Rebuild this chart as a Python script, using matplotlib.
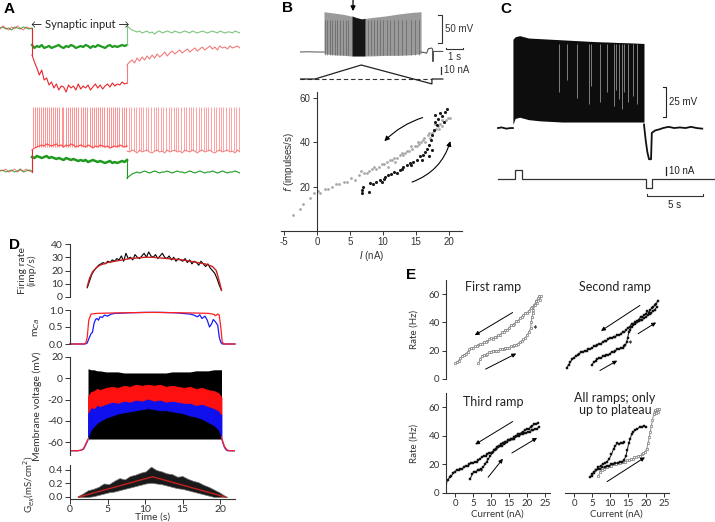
import numpy as np
import matplotlib
matplotlib.use("Agg")
import matplotlib.pyplot as plt

plt.rcParams['font.family'] = ['Lato', 'DejaVu Sans']
plt.rcParams['axes.linewidth'] = 0.8
plt.rcParams['axes.unicode_minus'] = False

W, H = 715, 522

# ======================= DATA =======================
# ---- Panel A (time in s, voltage in mV) ----
A_input_on, A_input_off = 3.2, 12.7
tA_pre = np.linspace(0, 3.2, 12)
tA_dur = np.linspace(3.2, 12.7, 40)
tA_post = np.linspace(12.7, 24, 46)
gA_top_pre = [-60, -59.5, -60.5, -60, -61, -59.5, -60, -60.5, -59.5, -60, -60.5, -60]
rA_top_pre = [-60.5, -59, -60, -61, -59.5, -60.5, -59, -60, -61, -59.5, -60, -60.5]
gA_top_dur = [-68.5, -70, -69, -69.5, -68.5, -70, -69.5, -69, -70, -69.5,
              -69, -68.5, -69.5, -70, -69, -69.5, -68.5, -69, -70, -69.5,
              -69, -69.5, -68.5, -69, -70, -69, -69.5, -68.5, -69, -69.5,
              -70, -69, -68.5, -69.5, -69, -69.5, -69, -68.5, -69, -68.5]
rA_top_dur = [-73.5, -77, -80, -83.5, -81, -86, -85, -88.5, -87, -90,
              -88, -91, -89, -89.5, -92, -88.5, -90, -89, -91, -88,
              -90.5, -89, -90, -88.5, -91, -89.5, -88, -90, -88.5, -90.5,
              -89, -88, -89.5, -87.5, -89, -88, -88.5, -87, -88, -87.5]
gA_top_post = [-59, -60, -61, -61.5, -62, -61.5, -62.5, -62, -61.5, -62.5,
               -62, -63, -62, -61.5, -62.5, -62, -61.5, -62, -62.5, -61.5,
               -62, -62.5, -62, -61.5, -62, -62.5, -61.5, -62, -62.5, -62,
               -61.5, -62, -62.5, -62, -61.5, -62, -62.5, -61.5, -62, -62.5,
               -62, -62, -62.5, -61.5, -62, -62.5]
rA_top_post = [-78.5, -77, -76, -77.5, -75, -76.5, -74.5, -76, -74, -75.5,
               -73.5, -75, -73, -74.5, -73.5, -72, -74, -72.5, -71.5, -73,
               -72, -71, -72.5, -71.5, -70.5, -72, -71, -70, -71.5, -70.5,
               -69.5, -71, -70, -69, -70.5, -69.5, -71, -69, -70, -69.5,
               -70.5, -69, -70, -69.5, -69, -70]
gA_bot_pre = [-60, -59.5, -60.5, -60, -59.5, -60.5, -60, -59, -60.5, -60, -59.5, -60]
rA_bot_pre = [-59.5, -60, -59, -60.5, -60, -59, -60.5, -59.5, -60, -59, -60, -60.5]
gA_bot_dur = [-53, -53.5, -52.5, -53, -53.5, -53, -52.5, -53.5, -53, -53.5,
              -54, -53.5, -54, -54.5, -53.5, -54, -54.5, -54, -54.5, -55,
              -54.5, -55, -54.5, -55.5, -55, -54.5, -55, -55.5, -55, -55.5,
              -56, -55.5, -55, -56, -55.5, -56, -55.5, -55, -55.5, -54.5]
rA_bot_dur = [-49.5, -48.5, -48, -47.5, -47, -47.5, -46.5, -47, -47.5, -47,
              -46.5, -47.5, -47, -48, -47, -47.5, -46.5, -47, -48, -47.5,
              -47, -47.5, -48, -47, -47.5, -48.5, -47.5, -48, -47, -47.5,
              -48, -47.5, -48.5, -48, -47.5, -48, -47, -47.5, -48, -47.5]
gA_bot_post = [-63.5, -62.5, -61.5, -61, -60.5, -61, -60.5, -60, -60.5, -61,
               -60.5, -60, -60.5, -61, -60.5, -60.5, -60, -60.5, -61, -60.5,
               -60, -60.5, -60.5, -61, -60.5, -60, -60.5, -61, -60.5, -60,
               -60.5, -61, -60.5, -60.5, -60, -60.5, -61, -60.5, -60, -60.5,
               -61, -60.5, -60.5, -60, -60.5, -61]
rA_bot_post = [-50, -50.5, -49.5, -50, -51, -49.5, -50.5, -50, -49.5, -50.5,
               -51, -50, -49.5, -50.5, -50, -51, -49.5, -50.5, -50, -49.5,
               -50.5, -50, -51, -49.5, -50, -50.5, -49.5, -50, -51, -50,
               -49.5, -50.5, -50, -49.5, -50.5, -51, -50, -49.5, -50.5, -50,
               -49.5, -50.5, -50, -51, -49.5, -50.5]
A_spike_peak = -28
A_spikes_dur = [3.25, 3.45, 3.68, 3.9, 4.07, 4.27, 4.5, 4.7, 4.93, 5.1, 5.33, 5.53, 5.67,
                5.93, 6.17, 6.33, 6.57, 6.8, 7.0, 7.17, 7.4, 7.6, 7.83, 8.1, 8.33, 8.53,
                8.73, 9.0, 9.2, 9.4, 9.6, 9.83, 10.0, 10.23, 10.43, 10.67, 10.87, 11.1,
                11.33, 11.53, 11.73, 11.93, 12.17, 12.4, 12.62]
A_spikes_post = [12.85, 13.1, 13.35, 13.58, 13.85, 14.1, 14.33, 14.6, 14.82, 15.08, 15.35,
                 15.57, 15.83, 16.1, 16.33, 16.58, 16.85, 17.08, 17.35, 17.6, 17.83, 18.1,
                 18.35, 18.58, 18.85, 19.1, 19.33, 19.6, 19.85, 20.08, 20.35, 20.6, 20.83,
                 21.1, 21.35, 21.58, 21.85, 22.1, 22.33, 22.6, 22.85, 23.08, 23.35, 23.6, 23.85]

# ---- Panel B (voltage trace, current ramp, f-I scatter) ----
B_pre_t = [0.0, 0.5, 1.0, 1.41]
B_pre_v = [-65, -64.5, -65, -65]
B_env_t = [1.41, 2.0, 2.6, 3.0, 3.3, 3.65, 4.2, 5.0, 5.8, 6.5, 7.12]
B_env_top = [7, 4.6, 2, -0.7, -3.4, -6.1, -3.4, -0.7, 2.9, 5.5, 7]
B_env_bot = [-68, -70, -71, -72, -72, -72, -72, -71, -71, -70, -68]
B_dark_t = [3.06, 3.3, 3.65, 3.82]
B_dark_top = [-0.5, -3.4, -6.1, -4.5]
B_dark_bot = [-72, -72, -72, -72]
B_tex_t = [1.45, 1.6, 1.75, 1.9, 2.05, 2.2, 2.35, 2.5, 2.7, 2.85, 4.0, 4.2, 4.35,
           4.55, 4.7, 4.9, 5.1, 5.3, 5.5, 5.75, 6.0, 6.25, 6.5, 6.75, 7.0]
B_post_t = [7.12, 7.3, 7.45, 7.55, 7.75, 7.8, 7.82, 7.84, 8.0, 8.4]
B_post_v = [-65, -66, -67, -59, -58, -60, -82, -64, -64, -64]
B_arrow_t = 3.12
B_I_t = [0.0, 0.88, 3.6, 7.76, 7.76, 8.4]
B_I = [0, 0, 20, -7, 0, 0]
B_down_I = [-3.6, -2.6, -2.1, -1.0, -0.4, 0.1, 0.5, 1.2, 1.6, 2.3, 2.8, 3.4, 4.1, 4.6, 5.2,
            5.8, 6.3, 6.7, 7.1, 7.5, 7.9, 8.3, 8.6, 9.0, 9.4, 9.8, 10.2, 10.6, 11.0, 11.3,
            11.7, 12.1, 12.5, 12.9, 13.3, 13.6, 14.0, 14.4, 14.8, 15.1, 15.5, 15.8, 16.1,
            16.4, 16.8, 17.1, 17.4, 17.7, 18.0, 18.3, 18.6, 18.9, 19.2, 19.5, 19.8, 20.1,
            19.0, 18.5, 17.9, 16.9, 16.2, 15.3, 14.2, 13.0, 11.8, 10.8]
B_down_f = [7, 10, 12, 15, 17, 18, 17, 19, 19, 20, 21, 21, 22, 22, 24,
            23, 25, 27, 26, 26, 27, 28, 29, 28, 29, 30, 30, 31, 32, 32,
            33, 33, 34, 35, 35, 36, 36, 37, 38, 38, 39, 40, 41,
            40, 43, 42, 44, 45, 46, 47, 48, 47, 49, 50, 51, 51,
            50, 46, 48, 44, 42, 40, 38, 34, 31, 29]
B_up_I = [6.8, 6.8, 7.0, 7.8, 8.0, 8.5, 9.0, 9.6, 9.8, 10.1, 10.3, 10.8, 11.6, 12.1, 12.6,
          13.1, 13.6, 14.1, 14.6, 15.1, 15.6, 16.1, 16.4, 16.6, 16.9, 17.2, 17.4, 17.7,
          17.9, 17.9, 18.4, 18.7, 19.2, 19.4, 19.7, 18.9, 18.2, 17.4, 16.9, 15.9, 14.3,
          12.9, 11.2]
B_up_f = [17, 18.5, 20, 17.5, 21.5, 21, 22, 23, 22, 23.5, 24.5, 25, 26.5, 26, 27.5,
          29, 29.5, 30.5, 31, 32, 33.5, 34, 35.5, 37, 38.5, 41, 43, 45.5,
          49, 52, 50.5, 53, 49, 53.5, 55, 51.5, 47.5, 36.5, 33.5, 32, 29.5,
          28, 25.5]

# ---- Panel C ----
C_pre_t = [0.27, 0.6, 1.0, 1.4, 1.6]
C_pre_v = [-60, -59.5, -60.5, -60, -60]
C_env_t = [1.6, 1.8, 2.2, 3, 4, 5, 6, 7, 8, 9, 10, 11, 12, 13, 13.3]
C_env_top = [14, 16, 17, 15, 14.5, 14, 13.5, 13, 12.5, 12, 11.7, 11.3, 11, 10.6, 10.5]
C_env_bot = [-57, -52, -51, -53, -54, -54.5, -55, -55, -55, -55, -55, -55, -55, -55, -55]
C_gap_t = [5.7, 6.4, 7.3, 8.4, 8.6, 9.4, 10.0, 10.6, 10.8, 11.1, 11.3, 11.5, 11.9, 12.35, 12.7]
C_gap_lo = [-30, -20, -35, -40, -25, -38, -30, -42, -28, -36, -44, -30, -38, -33, -40]
C_post_t = [13.3, 13.45, 13.6, 13.75, 13.93, 14.0, 14.3, 14.7, 15.0, 15.5, 16, 16.5, 17, 17.5, 18, 18.5]
C_post_v = [-57, -70, -80, -86, -86, -64, -62, -61, -60, -59, -60, -59.5, -60, -59, -60, -60.5]
C_I_t = [0.27, 1.79, 2.41, 13.48, 14.0, 19.64]
C_I = [0, 11, 0, -11, 0, 0]

# ---- Panel D ----
D_fr_t = np.linspace(2.3, 20.2, 60)
D_fr_black = [7, 12, 17, 20, 22, 24, 25, 26, 25, 27, 26, 28, 27, 29, 28, 31, 27, 33, 29, 30,
              28, 32, 30, 29, 31, 33, 30, 34, 31, 30, 32, 29, 31, 33, 30, 29, 31, 28, 30, 27,
              29, 28, 27, 29, 26, 28, 25, 27, 26, 24, 27, 25, 23, 25, 22, 20, 18, 14, 9, 5]
D_fr_red_t = [2.3, 2.6, 3.0, 3.5, 4, 5, 6, 7, 8, 9, 10, 11, 12, 13, 14, 15, 16, 17, 18, 19,
              19.5, 19.9, 20.2]
D_fr_red = [8, 14, 19, 22, 24, 26, 27, 28, 29, 29.5, 30, 30, 29.5, 29, 28.5, 28, 27, 26, 25,
            23, 20, 12, 5]
D_m_red_t = [0, 1.8, 2.1, 2.3, 2.5, 2.8, 3.5, 5, 8, 11, 14, 17, 18.5, 19.2, 19.4, 19.7, 19.9,
             20.1, 20.3, 20.6, 22]
D_m_red = [0, 0, 0.02, 0.2, 0.7, 0.88, 0.9, 0.91, 0.92, 0.93, 0.92, 0.91, 0.9, 0.87, 0.83,
           0.88, 0.85, 0.5, 0.05, 0, 0]
D_m_blue_t = [0, 2.0, 2.3, 2.5, 2.8, 3.0, 3.2, 3.4, 3.6, 3.8, 4.0, 4.3, 4.6, 5.0, 5.5, 6, 7, 8,
              10, 12, 14, 15, 16, 16.5, 17, 17.3, 17.6, 18, 18.3, 18.6, 18.9, 19.1, 19.4, 19.7,
              19.9, 20.1, 20.3, 22]
D_m_blue = [0, 0, 0.03, 0.15, 0.3, 0.35, 0.6, 0.72, 0.75, 0.7, 0.8, 0.78, 0.85, 0.82, 0.88,
            0.9, 0.91, 0.92, 0.93, 0.93, 0.92, 0.9, 0.88, 0.85, 0.8, 0.86, 0.75, 0.82, 0.7,
            0.5, 0.6, 0.72, 0.65, 0.55, 0.2, 0.05, 0, 0]
D_v_t = [2.4, 2.8, 3.2, 3.6, 4.0, 4.8, 5.6, 6.4, 7.2, 8.0, 8.8, 9.6, 10.4, 11.2, 12.0, 12.8,
         13.6, 14.4, 15.2, 16.0, 16.8, 17.6, 18.4, 19.2, 19.8, 20.2]
D_v_black_top = [9, 8, 8, 7, 7, 6, 6, 6, 5, 5, 5, 5, 5, 5, 5, 5, 6, 6, 6, 6, 7, 7, 7, 8, 8, 8]
D_v_black_bot = [-57, -57, -57, -57, -57, -57, -57, -57, -57, -57, -57, -57, -57, -57, -57,
                 -57, -57, -57, -57, -57, -57, -57, -57, -57, -57, -57]
D_v_red_top = [-17, -13, -12, -10, -11, -9, -8, -9, -7, -8, -6, -7, -6, -7, -6, -8, -7, -8,
               -9, -8, -10, -9, -11, -12, -14, -18]
D_v_red_bot = [-32, -27, -28, -25, -26, -24, -22, -23, -21, -22, -20, -21, -19, -21, -20, -22,
               -21, -22, -23, -23, -25, -24, -26, -28, -30, -34]
D_v_blue_bot = [-55, -48, -45, -42, -40, -37, -35, -33, -32, -31, -30, -29, -28, -29, -30, -30,
                -31, -32, -33, -35, -36, -38, -41, -44, -48, -55]
D_v_pre_t = [0, 0.5, 1.0, 1.5, 1.8, 2.0, 2.2, 2.4]
D_v_pre_red = [-68, -68, -68, -67.5, -66, -63, -60, -57]
D_v_pre_blue = [-68, -68, -68, -67.5, -66.5, -64, -61, -58]
D_v_post_t = [20.2, 20.4, 20.6, 20.8, 21.0, 21.3, 21.6, 22]
D_v_post_red = [-55, -60, -64, -66, -67.5, -68, -68, -68]
D_v_post_blue = [-56, -61, -65, -67, -68, -68, -68, -68]
D_g_t = [1.0, 1.7, 2.4, 3.1, 3.8, 4.5, 5.2, 5.9, 6.6, 7.3, 8.0, 8.7, 9.4, 10.1, 10.8, 11.5,
         12.2, 12.9, 13.6, 14.3, 15.0, 15.7, 16.4, 17.1, 17.8, 18.5, 19.2, 19.9, 20.6, 21.0]
D_g_upper = [0.01, 0.05, 0.10, 0.12, 0.15, 0.20, 0.19, 0.24, 0.28, 0.26, 0.31, 0.33, 0.36, 0.38,
             0.45, 0.40, 0.38, 0.35, 0.34, 0.30, 0.31, 0.27, 0.24, 0.22, 0.18, 0.15, 0.11,
             0.07, 0.02, 0.0]
D_g_lower = [0.0, 0.0, 0.0, 0.01, 0.03, 0.05, 0.07, 0.08, 0.10, 0.12, 0.14, 0.16, 0.18, 0.20,
             0.21, 0.20, 0.19, 0.17, 0.15, 0.13, 0.12, 0.10, 0.08, 0.06, 0.04, 0.02, 0.0, 0.0,
             0.0, 0.0]
D_g_red_t = [1.2, 11.0, 20.7]
D_g_red = [0.0, 0.3, 0.0]

# ---- Panel E ----
E1_dn_I = [23.8, 23.5, 23.2, 22.9, 22.5, 22, 21.5, 21, 20.5, 20, 19.5, 19, 18.5, 18, 17.5, 17,
           16.5, 16, 15.5, 15, 14.5, 14, 13.5, 13, 12.5, 12, 11.5, 11, 10.5, 10, 9.5, 9, 8.5, 8,
           7.5, 7, 6.5, 6, 5.5, 5, 4.5, 4, 3.5, 3, 2.5, 2, 1.5, 1, 0.5, 0]
E1_dn_f = [59, 56, 58, 54, 55, 52, 51, 50, 48, 47, 47, 45, 44, 43, 41, 41, 39, 38, 38, 36,
           35, 35, 33, 33, 31, 31, 30, 30, 28, 29, 28, 27, 26, 26, 25, 25, 24, 23, 23, 22,
           22, 21, 19, 18, 17, 16, 15, 13, 12, 11]
E1_up_I = [6.5, 7, 7.5, 8, 8.5, 9, 9.5, 10, 10.5, 11, 11.5, 12, 12.5, 13, 13.5, 14, 14.5, 15,
           15.5, 16, 16.5, 17, 17.5, 18, 18.5, 19, 19.5, 20, 20.5, 21, 21.2, 21.4, 21.6, 21.8,
           22.1, 22.5, 23, 23.4]
E1_up_f = [11, 14, 16, 17, 17, 18, 19, 19, 20, 20, 20, 20, 21, 21, 21, 22, 22, 22, 23, 23,
           24, 24, 25, 26, 27, 28, 29, 31, 33, 36, 40, 44, 47, 49, 52, 55, 57, 59]
E2_dn_I = [23.2, 22.8, 22.4, 22, 21.6, 21.2, 20.8, 20.4, 20, 19.5, 19, 18.5, 18, 17.5, 17,
           16.5, 16, 15.5, 15, 14.5, 14, 13.5, 13, 12.5, 12, 11.5, 11, 10.5, 10, 9.5, 9, 8.5,
           8, 7.5, 7, 6.5, 6, 5.5, 5, 4.5, 4, 3.5, 3, 2.5, 2, 1.5, 1, 0.5, 0, -0.5, -1, -1.5, -2]
E2_dn_f = [55, 53, 52, 51, 50, 49, 47, 48, 46, 45, 44, 44, 42, 41, 40, 39, 39, 37, 36, 35,
           33, 33, 32, 31, 31, 30, 30, 29, 29, 28, 27, 27, 26, 25, 25, 24, 23, 23, 22, 21,
           21, 20, 20, 19, 19, 18, 17, 16, 15, 14, 12, 10, 8]
E2_up_I = [5, 5.5, 6, 6.5, 7, 7.5, 8, 8.5, 9, 9.5, 10, 10.5, 11, 11.5, 12, 12.5, 13, 13.5, 14,
           14.3, 14.6, 14.9, 15.2, 15.6, 16, 16.5, 17, 17.5, 18, 18.5, 19, 19.5, 20, 20.5, 21,
           21.5, 22, 22.5, 23]
E2_up_f = [10, 12, 13, 14, 15, 15, 16, 16, 17, 17, 18, 19, 19, 20, 21, 21, 22, 22, 23, 24,
           26, 29, 33, 35, 37, 38, 39, 40, 41, 42, 42, 43, 44, 45, 46, 47, 48, 49, 51]
E3_dn_I = [23, 22.5, 22, 21.5, 21, 20.5, 20, 19.5, 19, 18.5, 18, 17.5, 17, 16.5, 16, 15.5, 15,
           14.5, 14, 13.5, 13, 12.5, 12, 11.5, 11, 10.5, 10, 9.5, 9, 8.5, 8, 7.5, 7, 6.5, 6,
           5.5, 5, 4.5, 4, 3.5, 3, 2.5, 2, 1.5, 1, 0.5, 0, -0.5, -1, -1.5, -2, -2.5]
E3_dn_f = [49, 48, 48, 47, 46, 45, 45, 44, 43, 42, 41, 41, 40, 39, 38, 38, 37, 36, 35, 34,
           33, 33, 32, 31, 30, 29, 28, 28, 27, 26, 26, 25, 24, 23, 22, 22, 21, 21, 20, 19,
           19, 18, 17, 17, 16, 16, 15, 14, 12, 11, 9, 7]
E3_up_I = [4.2, 4.8, 5.2, 5.8, 6.3, 6.8, 7.3, 7.8, 8.3, 8.8, 9.3, 9.8, 10.3, 10.8, 11.3, 11.8,
           12.3, 12.8, 13.3, 13.8, 14.3, 14.8, 15.3, 15.8, 16.3, 16.8, 17.3, 17.8, 18.3, 18.8,
           19.3, 19.8, 20.3, 20.8, 21.3, 21.8, 22.3, 22.8, 23.2]
E3_up_f = [10, 13, 15, 15, 16, 16, 17, 18, 20, 22, 24, 26, 28, 30, 31, 32, 33, 34, 35, 36,
           36, 37, 37, 38, 38, 39, 40, 40, 41, 41, 42, 42, 43, 43, 44, 44, 45, 45, 46]
EA_grey_I = [6.8, 7.3, 7.8, 8.3, 8.8, 9.3, 9.8, 10.3, 10.8, 11.3, 11.8, 12.3, 12.8, 13.3, 13.8,
             14.3, 14.8, 15.3, 15.8, 16.3, 16.8, 17.3, 17.8, 18.3, 18.8, 19.3, 19.8, 20.2, 20.6,
             20.9, 21.2, 21.5, 21.8, 22.1, 22.4, 22.7, 23.0, 23.3, 23.6]
EA_grey_f = [12, 15, 16, 17, 18, 18, 19, 19, 20, 20, 20, 21, 21, 22, 22, 22, 23, 23, 24, 24,
             25, 25, 26, 26, 27, 28, 29, 31, 35, 39, 43, 47, 51, 55, 58, 56, 59, 57, 59]
EA_b1_I = [4.4, 5.0, 5.6, 6.2, 6.8, 7.4, 8.0, 8.6, 9.2, 9.8, 10.4, 11.0, 11.5, 12.0, 12.5, 13.0,
           13.5, 14.0]
EA_b1_f = [11, 13, 15, 16, 18, 19, 20, 21, 22, 24, 27, 31, 33, 35, 34, 35, 35, 36]
EA_b2_I = [4.9, 5.5, 6.1, 6.7, 7.3, 7.9, 8.5, 9.1, 9.7, 10.3, 10.9, 11.5, 12.1, 12.7, 13.3,
           13.9, 14.4, 14.8, 15.2, 15.6, 16.0, 16.5, 17.0, 17.6, 18.2, 18.8, 19.4, 20.0]
EA_b2_f = [12, 14, 16, 17, 17, 18, 18, 19, 19, 20, 20, 21, 21, 22, 22, 23, 26, 30, 35, 38,
           41, 43, 44, 45, 46, 46, 47, 46]
E_ticks_x = [0, 5, 10, 15, 20, 25]
E_ticks_y = [0, 20, 40, 60]

# ======================= FIGURE =======================
fig = plt.figure(figsize=(W / 100, H / 100), dpi=100)


def rect(x0, y0, x1, y1):
    return [x0 / W, 1 - y1 / H, (x1 - x0) / W, (y1 - y0) / H]


def panel_label(x, y, s):
    fig.text(x / W, 1 - y / H, s, fontsize=11, fontweight='bold', ha='left', va='center',
             family=['Liberation Sans', 'DejaVu Sans'])


GREEN_D, GREEN_L = '#1f9a1f', '#7fc67f'
RED_D, RED_L = '#e8262b', '#f27c7c'

# ---------------- Panel A ----------------
axA1 = fig.add_axes(rect(0, 15, 240, 100))
axA1.set_axis_off()
axA1.set_xlim(0, 24)
axA1.set_ylim(-96, -53.5)
axA1.plot(tA_pre, gA_top_pre, color=GREEN_D, lw=0.8, alpha=0.8)
axA1.plot(tA_pre, rA_top_pre, color=RED_D, lw=0.7, alpha=0.6)
axA1.plot(tA_dur, gA_top_dur, color=GREEN_D, lw=1.6)
axA1.plot(tA_dur, rA_top_dur, color=RED_D, lw=0.8)
axA1.plot(tA_post, gA_top_post, color=GREEN_L, lw=0.8)
axA1.plot(tA_post, rA_top_post, color=RED_L, lw=0.8)
axA1.plot([tA_pre[-1], tA_dur[0]], [gA_top_pre[-1], gA_top_dur[0]], color=GREEN_D, lw=0.8)
axA1.plot([tA_pre[-1], tA_dur[0]], [rA_top_pre[-1], rA_top_dur[0]], color=RED_D, lw=0.8)
axA1.plot([tA_dur[-1], tA_post[0]], [gA_top_dur[-1], gA_top_post[0]], color=GREEN_L, lw=0.8)
axA1.plot([tA_dur[-1], tA_post[0]], [rA_top_dur[-1], rA_top_post[0]], color=RED_L, lw=0.8)

axA2 = fig.add_axes(rect(0, 100, 240, 185))
axA2.set_axis_off()
axA2.set_xlim(0, 24)
axA2.set_ylim(-67, -24.5)
axA2.vlines(A_spikes_dur, -48, A_spike_peak, color='#ff8f8f', lw=0.7)
axA2.vlines(A_spikes_post, -50, A_spike_peak, color='#ffa3a3', lw=0.7)
axA2.plot(tA_pre, gA_bot_pre, color=GREEN_D, lw=0.8, alpha=0.8)
axA2.plot(tA_pre, rA_bot_pre, color=RED_D, lw=0.7, alpha=0.6)
axA2.plot(tA_dur, rA_bot_dur, color='#ff5050', lw=0.9)
axA2.plot(tA_dur, gA_bot_dur, color=GREEN_D, lw=1.8)
axA2.plot(tA_post, rA_bot_post, color=RED_L, lw=0.7)
axA2.plot(tA_post, gA_bot_post, color=GREEN_D, lw=0.8)
axA2.plot([tA_pre[-1], tA_dur[0]], [gA_bot_pre[-1], gA_bot_dur[0]], color=GREEN_D, lw=0.8)
axA2.plot([tA_pre[-1], tA_dur[0]], [rA_bot_pre[-1], rA_bot_dur[0]], color=RED_D, lw=0.8)
axA2.plot([tA_dur[-1], tA_post[0]], [gA_bot_dur[-1], gA_bot_post[0]], color=GREEN_D, lw=0.8)

fig.text(80 / W, 1 - 25 / H, '\u2190 Synaptic input \u2192', fontsize=8, ha='center',
         va='center', color='#222')
panel_label(4, 9, 'A')

# ---------------- Panel B ----------------
axBv = fig.add_axes(rect(300, 0, 470, 64))
axBv.set_axis_off()
axBv.set_xlim(0, 10)
axBv.set_ylim(-86.4, 27.9)
axBv.plot(B_pre_t, B_pre_v, color='#777', lw=0.9)
axBv.fill_between(B_env_t, B_env_bot, B_env_top, color='#9a9a9a', lw=0)
axBv.vlines(B_tex_t, -70, -8, color='#5a5a5a', lw=0.6, alpha=0.7)
axBv.fill_between(B_dark_t, B_dark_bot, B_dark_top, color='#151515', lw=0)
axBv.plot(B_post_t, B_post_v, color='#555', lw=0.8)
axBv.annotate('', xy=(B_arrow_t, 8), xytext=(B_arrow_t, 29),
              arrowprops=dict(arrowstyle='-|>', color='k', lw=0.9, mutation_scale=7,
                              shrinkA=0, shrinkB=0), annotation_clip=False)
# scale bars
axBv.plot([8.1, 8.35, 8.35, 8.1], [1, 1, -49, -49], color='#333', lw=0.8, clip_on=False)
axBv.plot([8.59, 8.59, 9.59, 9.59], [-57, -59.6, -59.6, -57], color='#333', lw=0.8,
          clip_on=False)
BFONT = ['Liberation Sans', 'DejaVu Sans']
axBv.text(8.55, -24, '50 mV', fontsize=7, va='center', ha='left', color='#333', family=BFONT)
axBv.text(9.1, -74, '1 s', fontsize=7, va='center', ha='center', color='#333', family=BFONT)

axBi = fig.add_axes(rect(300, 62, 470, 90))
axBi.set_axis_off()
axBi.set_xlim(0, 10)
axBi.set_ylim(-15.7, 24.3)
axBi.hlines(0, 0, 7.76, color='#333', lw=0.8, linestyles=(0, (4, 2.5)))
axBi.plot(B_I_t, B_I, color='#222', lw=0.9)
axBi.plot([8.29, 8.29], [7.1, 17.1], color='#333', lw=0.9, clip_on=False)
axBi.text(8.45, 12.5, '10 nA', fontsize=7, va='center', ha='left', color='#333', family=BFONT)

axBs = fig.add_axes(rect(281.4, 92, 462.2, 231))
axBs.scatter(B_down_I, B_down_f, s=4, color='#a8a8a8', lw=0)
axBs.scatter(B_up_I, B_up_f, s=5, color='#1a1a1a', lw=0)
axBs.set_xlim(-5.4, 22)
axBs.set_ylim(0, 62.5)
axBs.spines['left'].set_position(('data', 0))
axBs.spines[['top', 'right']].set_visible(False)
for s in ['left', 'bottom']:
    axBs.spines[s].set_color('#333')
axBs.set_xticks([-5, 0, 5, 10, 15, 20])
axBs.set_yticks([20, 40, 60])
axBs.tick_params(length=3, width=0.7, labelsize=7, colors='#333', pad=1.5)
for lab in axBs.get_xticklabels() + axBs.get_yticklabels():
    lab.set_family(BFONT)
axBs.set_ylabel('$\\it{f}$ (impulses/s)', fontsize=7, color='#333', family=BFONT, labelpad=3)
axBs.set_xlabel('$\\it{I}$ (nA)', fontsize=7, color='#333', family=BFONT, labelpad=1)
axBs.annotate('', xy=(10.2, 40.4), xytext=(16, 51),
              arrowprops=dict(arrowstyle='-|>', color='k', lw=0.8, mutation_scale=7,
                              shrinkA=0, shrinkB=0, connectionstyle='arc3,rad=0.12'))
axBs.annotate('', xy=(20.2, 40.4), xytext=(14.4, 22),
              arrowprops=dict(arrowstyle='-|>', color='k', lw=0.8, mutation_scale=7,
                              shrinkA=0, shrinkB=0, connectionstyle='arc3,rad=0.25'))
panel_label(282, 8, 'B')

# ---------------- Panel C ----------------
axCv = fig.add_axes(rect(495, 30, 715, 165))
axCv.set_axis_off()
axCv.set_xlim(0, 19.64)
axCv.set_ylim(-90.8, 21.7)
axCv.plot(C_pre_t, C_pre_v, color='#111', lw=1.3)
axCv.fill_between(C_env_t, C_env_bot, C_env_top, color='#0d0d0d', lw=0)
axCv.vlines(C_gap_t, C_gap_lo, 10, color='white', lw=0.6, alpha=0.55)
axCv.plot(C_post_t, C_post_v, color='#111', lw=1.3)
axCv.plot([15.0, 15.27, 15.27, 15.0], [-25.8, -25.8, -50.8, -50.8], color='#222', lw=0.8,
          clip_on=False)
axCv.text(15.55, -38, '25 mV', fontsize=7, va='center', ha='left', color='#222', family=BFONT)

axCi = fig.add_axes(rect(495, 165, 715, 210))
axCi.set_axis_off()
axCi.set_xlim(0, 19.64)
axCi.set_ylim(-38.75, 17.5)
axCi.plot(C_I_t, C_I, color='#333', lw=0.9, drawstyle='steps-post')
axCi.plot([15.27, 15.27], [5, 15], color='#222', lw=0.9)
axCi.text(15.5, 10, '10 nA', fontsize=7, va='center', ha='left', color='#222', family=BFONT)
axCi.plot([13.57, 13.57, 18.57, 18.57], [-18.5, -21.25, -21.25, -18.5], color='#333', lw=0.8)
axCi.text(16.07, -32, '5 s', fontsize=7, va='center', ha='center', color='#222', family=BFONT)
panel_label(500, 9, 'C')


# ---------------- Panel D ----------------
def d_axes(r, ylim, yticks, fmt=None, bottom=False):
    ax = fig.add_axes(rect(*r))
    ax.set_xlim(0, 22)
    ax.set_ylim(*ylim)
    ax.spines[['top', 'right']].set_visible(False)
    ax.spines['bottom'].set_visible(bottom)
    for s in ['left', 'bottom']:
        ax.spines[s].set_color('#333')
    ax.set_yticks(yticks)
    if fmt:
        ax.set_yticklabels([fmt.format(v) for v in yticks])
    if not bottom:
        ax.set_xticks([])
    ax.tick_params(length=3.5, width=0.7, labelsize=7.5, colors='#333', pad=1.5)
    return ax


axD1 = d_axes((70, 244, 235, 297), (0, 40), [0, 10, 20, 30, 40])
axD1.plot(D_fr_t, D_fr_black, color='k', lw=0.8)
axD1.plot(D_fr_red_t, D_fr_red, color='#c62020', lw=1.0)
axD1.set_ylabel('Firing rate\n(imp/s)', fontsize=7.5, color='#333', linespacing=1.1)
axD1.yaxis.set_label_coords(-0.2, 0.5)

axD2 = d_axes((70, 310, 235, 344), (0, 1), [0.0, 0.5, 1.0], fmt='{:.1f}')
axD2.plot(D_m_blue_t, D_m_blue, color='#1a1aff', lw=0.9, clip_on=False)
axD2.plot(D_m_red_t, D_m_red, color='#ff2020', lw=0.9, clip_on=False)
axD2.set_ylabel('m$_{Ca}$', fontsize=7.5, color='#333')
axD2.yaxis.set_label_coords(-0.17, 0.5)

axD3 = d_axes((70, 357, 235, 455), (-72, 20), [-60, -40, -20, 0, 20])
axD3.plot(D_v_pre_t, D_v_pre_blue, color='#2a2aff', lw=0.9)
axD3.plot(D_v_pre_t, D_v_pre_red, color='#ff2020', lw=0.9)
axD3.plot(D_v_post_t, D_v_post_blue, color='#2a2aff', lw=0.9)
axD3.plot(D_v_post_t, D_v_post_red, color='#ff2020', lw=0.9)
axD3.fill_between(D_v_t, D_v_black_bot, D_v_black_top, color='k', lw=0)
axD3.fill_between(D_v_t, D_v_blue_bot, D_v_red_bot, color='#1010ee', lw=0.6, edgecolor='#1010ee')
axD3.fill_between(D_v_t, D_v_red_bot, D_v_red_top, color='#ff1010', lw=0.6, edgecolor='#ff1010')
axD3.set_ylabel('Membrane voltage (mV)', fontsize=7.5, color='#333')
axD3.yaxis.set_label_coords(-0.17, 0.5)

axD4 = d_axes((70, 465, 235, 499), (-0.03, 0.474), [0.0, 0.2, 0.4], fmt='{:.1f}', bottom=True)
axD4.fill_between(D_g_t, D_g_lower, D_g_upper, color='#1a1a1a', lw=0.5, edgecolor='#777')
axD4.plot(D_g_red_t, D_g_red, color='#c62020', lw=1.0)
axD4.set_xticks([0, 5, 10, 15, 20])
axD4.tick_params(axis='x', pad=0.5)
axD4.set_xlabel('Time (s)', fontsize=7.5, color='#333', labelpad=-1)
axD4.set_ylabel('G$_{ex}$(mS/cm$^2$)', fontsize=7, color='#333')
axD4.yaxis.set_label_coords(-0.2, 0.45)
panel_label(9, 245, 'D')


# ---------------- Panel E ----------------
def e_axes(r, left, bottom):
    ax = fig.add_axes(rect(*r))
    ax.set_xlim(-2.5, 26.3)
    ax.set_ylim(0, 70)
    ax.spines[['top', 'right']].set_visible(False)
    ax.spines['left'].set_visible(left)
    ax.spines['bottom'].set_visible(bottom)
    for s in ['left', 'bottom']:
        ax.spines[s].set_color('#333')
    ax.set_yticks(E_ticks_y if left else [])
    ax.set_xticks(E_ticks_x if bottom else [])
    ax.tick_params(length=3, width=0.7, labelsize=7, colors='#333', pad=1.5)
    if left:
        ax.set_ylabel('Rate (Hz)', fontsize=7, color='#333')
        ax.yaxis.set_label_coords(-0.26, 0.5)
    if bottom:
        ax.set_xlabel('Current (nA)', fontsize=7, color='#333', labelpad=1)
    return ax


def arrow(ax, start, end):
    ax.annotate('', xy=end, xytext=start,
                arrowprops=dict(arrowstyle='-|>', color='k', lw=0.7, mutation_scale=6,
                                shrinkA=0, shrinkB=0))


def grey_curve(ax, x, y):
    ax.plot(x, y, color='#8c8c8c', lw=0.7, marker='s', ms=1.5, mfc='white', mec='#7c7c7c',
            mew=0.5)


def black_curve(ax, x, y):
    ax.plot(x, y, color='#111', lw=0.7, marker='s', ms=1.5, mfc='#111', mec='#111', mew=0.3)


axE1 = e_axes((446, 280, 549.7, 379), True, False)
grey_curve(axE1, E1_dn_I, E1_dn_f)
grey_curve(axE1, E1_up_I, E1_up_f)
axE1.text(22.2, 34, '*', fontsize=8, ha='center', va='center')
arrow(axE1, (16, 47), (5.5, 31))
arrow(axE1, (8.5, 7), (17, 18))
axE1.text(0.453, 0.93, 'First ramp', transform=axE1.transAxes, fontsize=9, ha='center',
          va='center', color='#222')

axE2 = e_axes((565, 280, 668.7, 379), False, False)
black_curve(axE2, E2_dn_I, E2_dn_f)
black_curve(axE2, E2_up_I, E2_up_f)
axE2.text(15.5, 23.5, '*', fontsize=8, ha='center', va='center')
arrow(axE2, (18.3, 52), (7.5, 34))
arrow(axE2, (7.2, 6), (12, 13))
arrow(axE2, (17.8, 32), (22.8, 40))
axE2.text(0.482, 0.93, 'Second ramp', transform=axE2.transAxes, fontsize=9, ha='center',
          va='center', color='#222')

axE3 = e_axes((446, 393, 549.7, 493), True, True)
black_curve(axE3, E3_dn_I, E3_dn_f)
black_curve(axE3, E3_up_I, E3_up_f)
axE3.text(7.2, 13.5, '*', fontsize=8, ha='center', va='center')
arrow(axE3, (16, 50), (5.6, 34))
arrow(axE3, (9.2, 11), (13.3, 24))
arrow(axE3, (15.8, 28), (22.8, 38.6))
axE3.text(0.453, 0.91, 'Third ramp', transform=axE3.transAxes, fontsize=9, ha='center',
          va='center', color='#222')

axE4 = e_axes((565, 393, 668.7, 493), False, True)
grey_curve(axE4, EA_grey_I, EA_grey_f)
black_curve(axE4, EA_b1_I, EA_b1_f)
black_curve(axE4, EA_b2_I, EA_b2_f)
arrow(axE4, (9.2, 8), (19.7, 25))
axE4.text(0.482, 0.89, 'All ramps; only\nup to plateau', transform=axE4.transAxes, fontsize=9,
          ha='center', va='center', color='#222', linespacing=1.0)
panel_label(406, 275, 'E')

fig.savefig('out.png', dpi=100)
